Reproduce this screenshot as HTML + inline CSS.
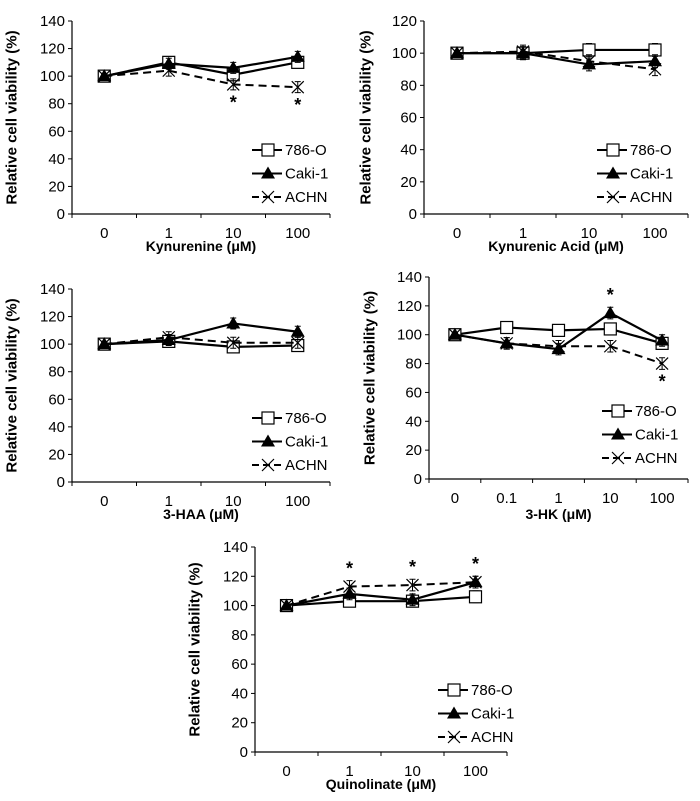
<!DOCTYPE html>
<html><head><meta charset="utf-8"><style>
body{margin:0;background:#fff;}
svg{display:block;font-family:"Liberation Sans",Arial,sans-serif;}
</style></head><body>
<svg id="c" width="700" height="801"></svg>
<script>
const seriesNames = ["786-O","Caki-1","ACHN"];
const cats4 = ["0","1","10","100"];
const cats5 = ["0","0.1","1","10","100"];
const kyn786 = [100,110,101,110], kynCaki = [100,109,106,114], kynAchn = [100,104,94,92];
const kaa786 = [100,100,102,102], kaaCaki = [100,100,93,95], kaaAchn = [100,101,95,90];
const haa786 = [100,102,98,99], haaCaki = [100,103,115,109], haaAchn = [100,105,101,101];
const hk786 = [100,105,103,104,94], hkCaki = [100,94,90,115,96], hkAchn = [100,94,92,92,80];
const qa786 = [100,103,103,106], qaCaki = [100,108,104,116], qaAchn = [100,113,114,116];

const panels = [
 {name:"kynurenine",title:"Kynurenine (\u03bcM)",cats:cats4,s:[kyn786,kynCaki,kynAchn],ymax:140,x0:72,x1:330,y0:214,y1:21,ylab:12,xl:251,leg:[252,150],stars:[[2,2,'b'],[2,3,'b']]},
 {name:"kynurenic-acid",title:"Kynurenic Acid (\u03bcM)",cats:cats4,s:[kaa786,kaaCaki,kaaAchn],ymax:120,x0:424,x1:688,y0:214,y1:21,ylab:366,xl:251,leg:[597,150],stars:[]},
 {name:"3-haa",title:"3-HAA (\u03bcM)",cats:cats4,s:[haa786,haaCaki,haaAchn],ymax:140,x0:72,x1:330,y0:482,y1:289,ylab:12,xl:519,leg:[252,418],stars:[]},
 {name:"3-hk",title:"3-HK (\u03bcM)",cats:cats5,s:[hk786,hkCaki,hkAchn],ymax:140,x0:429,x1:688,y0:479,y1:277,ylab:370,xl:519,leg:[602,411],stars:[[1,3,'a'],[2,4,'b']]},
 {name:"quinolinate",title:"Quinolinate (\u03bcM)",cats:cats4,s:[qa786,qaCaki,qaAchn],ymax:140,x0:255,x1:507,y0:752,y1:547,ylab:195,xl:789,leg:[438,690],stars:[[2,1,'a'],[2,2,'a'],[2,3,'a']]}
];
const svg=document.getElementById('c');
const NS="http://www.w3.org/2000/svg";
function mk(t,a,p){const e=document.createElementNS(NS,t);for(const k in a)e.setAttribute(k,a[k]);(p||svg).appendChild(e);return e;}
function marker(g,i,x,y){
 if(i===0){mk('rect',{x:x-6,y:y-6,width:12,height:12,fill:'#fff',stroke:'#000','stroke-width':1.2},g);}
 else if(i===1){mk('polygon',{points:`${x},${y-7} ${x+7},${y+5} ${x-7},${y+5}`,fill:'#000'},g);}
 else {mk('path',{d:`M${x-6} ${y-6}L${x+6} ${y+6}M${x-6} ${y+6}L${x+6} ${y-6}`,stroke:'#000','stroke-width':1.2},g);}
}
panels.forEach(p=>{
 const g=mk('g',{});
 
 
 const n=p.cats.length, bw=(p.x1-p.x0)/n;
 const X=i=>p.x0+bw*(i+0.5);
 const Y=v=>p.y0-(p.y0-p.y1)*v/p.ymax;
 mk('line',{x1:p.x0,y1:p.y0,x2:p.x0,y2:p.y1,stroke:'#000','stroke-width':1.2},g);
 mk('line',{x1:p.x0,y1:p.y0,x2:p.x1,y2:p.y0,stroke:'#000','stroke-width':1.2},g);
 for(let v=0;v<=p.ymax;v+=20){
  mk('line',{x1:p.x0-4,y1:Y(v),x2:p.x0,y2:Y(v),stroke:'#000'},g);
  const t=mk('text',{x:p.x0-7,y:Y(v)+5,'text-anchor':'end','font-size':15},g);t.textContent=v;
  
  
 }
 for(let i=0;i<=n;i++) mk('line',{x1:p.x0+bw*i,y1:p.y0,x2:p.x0+bw*i,y2:p.y0+4,stroke:'#000'},g);
 p.cats.forEach((c,i)=>{const t=mk('text',{x:X(i),y:p.y0+24,'text-anchor':'middle','font-size':15},g);t.textContent=c;
  
  });
 const xt=mk('text',{x:(p.x0+p.x1)/2,y:p.xl,'text-anchor':'middle','font-size':14,'font-weight':'bold'},g);xt.textContent=p.title;
 
 
 const ym=(p.y0+p.y1)/2;
 const yt=mk('text',{x:p.ylab,y:ym,'text-anchor':'middle','font-size':15,'font-weight':'bold',transform:`rotate(-90 ${p.ylab} ${ym})`,'dominant-baseline':'central'},g);yt.textContent="Relative cell viability (%)";
 
 
 p.s.forEach((arr,si)=>{
  const d=arr.map((v,i)=>(i?'L':'M')+X(i)+' '+Y(v)).join('');
  const l=mk('path',{d:d,fill:'none',stroke:'#000','stroke-width':si===2?2:2.2,'stroke-dasharray':si===2?'8 5':'none'},g);
  
  
  arr.forEach((v,i)=>{
   const e=i===0?1.5:4;
   mk('path',{d:`M${X(i)} ${Y(v+e)}L${X(i)} ${Y(v-e)}M${X(i)-3} ${Y(v+e)}L${X(i)+3} ${Y(v+e)}M${X(i)-3} ${Y(v-e)}L${X(i)+3} ${Y(v-e)}`,stroke:'#000','stroke-width':1},g);
   marker(g,si,X(i),Y(v));
  });
 });
 p.stars.forEach(s=>{
  const v=p.s[s[0]][s[1]];
  const yy=s[2]==='b'?Y(v)+24:Y(v)-12;
  const t=mk('text',{x:X(s[1]),y:yy,'text-anchor':'middle','font-size':18,'font-weight':'bold'},g);t.textContent='*';
  
  
 });
 seriesNames.forEach((nm,si)=>{
  const lx=p.leg[0], ly=p.leg[1]+si*23.5;
  const lg=mk('g',{},g);
  
  
  mk('line',{x1:lx,y1:ly,x2:lx+30,y2:ly,stroke:'#000','stroke-width':2,'stroke-dasharray':si===2?'7 4':'none'},lg);
  marker(lg,si,lx+16,ly);
  const t=mk('text',{x:lx+33,y:ly+5,'font-size':15},lg);t.textContent=nm;
 });
});
</script>
</body></html>
